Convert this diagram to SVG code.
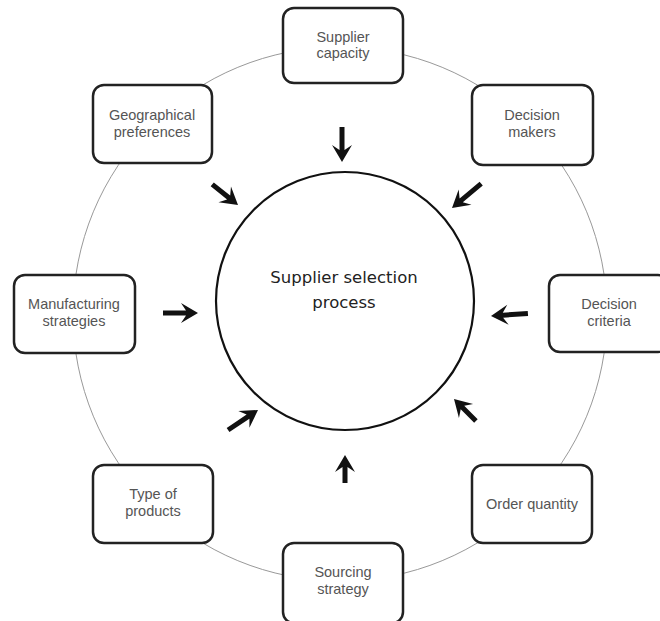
<svg xmlns="http://www.w3.org/2000/svg" width="660" height="621" viewBox="0 0 660 621">
<style>
.box rect{fill:#fff;stroke:#222;stroke-width:2.5}
.box text{font-family:"Liberation Sans",Arial,sans-serif;font-size:14.5px;fill:#555;text-anchor:middle}
.arr{fill:#111}
</style>
<rect width="660" height="621" fill="#fff"/>
<circle cx="340" cy="314" r="267" fill="none" stroke="#999" stroke-width="1"/>
<g id="center">
<circle cx="345" cy="301" r="129" fill="#fff" stroke="#111" stroke-width="2.2"/>
<text x="344" y="283" font-family="DejaVu Sans,sans-serif" font-size="16.5" fill="#222" text-anchor="middle">Supplier selection</text>
<text x="344" y="308" font-family="DejaVu Sans,sans-serif" font-size="16.5" fill="#222" text-anchor="middle">process</text>
</g>
<g id="connectors" class="arr">
<path transform="translate(342,162) rotate(90)" d="M0,0 L-17,-10 L-12,-2.5 L-35,-2.5 L-35,2.5 L-12,2.5 L-17,10Z"/>
<path transform="translate(238,205) rotate(38.7)" d="M0,0 L-17,-10 L-12,-2.5 L-33,-2.5 L-33,2.5 L-12,2.5 L-17,10Z"/>
<path transform="translate(452,208) rotate(140.2)" d="M0,0 L-17,-10 L-12,-2.5 L-38,-2.5 L-38,2.5 L-12,2.5 L-17,10Z"/>
<path transform="translate(198,313) rotate(0)" d="M0,0 L-17,-10 L-12,-2.5 L-35,-2.5 L-35,2.5 L-12,2.5 L-17,10Z"/>
<path transform="translate(491,316) rotate(176)" d="M0,0 L-17,-10 L-12,-2.5 L-37,-2.5 L-37,2.5 L-12,2.5 L-17,10Z"/>
<path transform="translate(258,410) rotate(-33.7)" d="M0,0 L-17,-10 L-12,-2.5 L-36,-2.5 L-36,2.5 L-12,2.5 L-17,10Z"/>
<path transform="translate(454,399) rotate(-135)" d="M0,0 L-17,-10 L-12,-2.5 L-31,-2.5 L-31,2.5 L-12,2.5 L-17,10Z"/>
<path transform="translate(345,455) rotate(-90)" d="M0,0 L-17,-10 L-12,-2.5 L-28,-2.5 L-28,2.5 L-12,2.5 L-17,10Z"/>
</g>
<g id="supplier-capacity" class="box"><rect x="283" y="8" width="120" height="75" rx="11"/><text x="343" y="42">Supplier</text><text x="343" y="58">capacity</text></g>
<g id="geographical-preferences" class="box"><rect x="93" y="85" width="119" height="78" rx="11"/><text x="152" y="120">Geographical</text><text x="152" y="137">preferences</text></g>
<g id="decision-makers" class="box"><rect x="472" y="85" width="121" height="80" rx="11"/><text x="532" y="120">Decision</text><text x="532" y="137">makers</text></g>
<g id="manufacturing-strategies" class="box"><rect x="14" y="275" width="121" height="78" rx="11"/><text x="74" y="309">Manufacturing</text><text x="74" y="326">strategies</text></g>
<g id="decision-criteria" class="box"><rect x="549" y="275" width="120" height="77" rx="11"/><text x="609" y="309">Decision</text><text x="609" y="326">criteria</text></g>
<g id="type-of-products" class="box"><rect x="93" y="465" width="120" height="78" rx="11"/><text x="153" y="499">Type of</text><text x="153" y="516">products</text></g>
<g id="order-quantity" class="box"><rect x="472" y="465" width="120" height="78" rx="11"/><text x="532" y="509">Order quantity</text></g>
<g id="sourcing-strategy" class="box"><rect x="283" y="543" width="120" height="80" rx="11"/><text x="343" y="577">Sourcing</text><text x="343" y="594">strategy</text></g>
</svg>
